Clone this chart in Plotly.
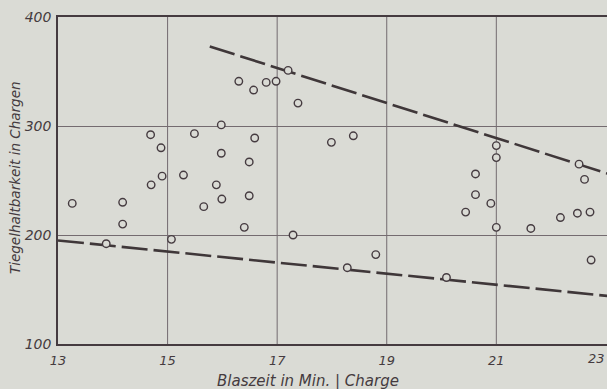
import plotly.graph_objects as go

# Blowing time per heat (min) and ladle/crucible life (heats)
blaszeit = [13.26, 13.88, 14.18, 14.18, 14.69, 14.88, 14.70, 14.90, 15.07, 15.29,
            15.49, 15.66, 15.89, 15.98, 15.98, 15.99, 16.30, 16.40, 16.49, 16.49,
            16.57, 16.59, 16.80, 16.98, 17.20, 17.29, 17.38, 17.99, 18.28, 18.39,
            18.80, 20.09, 20.44, 20.62, 20.62, 20.90, 21.00, 21.00, 21.00, 21.63,
            22.17, 22.48, 22.51, 22.61, 22.71, 22.73]
haltbarkeit = [229, 192, 230, 210, 292, 280, 246, 254, 196, 255,
               293, 226, 246, 301, 275, 233, 341, 207, 267, 236,
               333, 289, 340, 341, 351, 200, 321, 285, 170, 291,
               182, 161, 221, 256, 237, 229, 282, 271, 207, 206,
               216, 220, 265, 251, 221, 177]

# Upper and lower boundary lines (endpoints)
obere_x = [15.77, 23.05]
obere_y = [373, 256]
untere_x = [13.0, 23.05]
untere_y = [195, 144]

x_ticks = [13, 15, 17, 19, 21]
x_last_tick = "23"
x_grid = [15, 17, 19, 21]
y_ticks = [100, 200, 300, 400]

bg = "#dadbd5"
ink = "#453b40"
grid = "#746b70"
font_family = "DejaVu Sans"

fig = go.Figure()

for lx, ly in ((obere_x, obere_y), (untere_x, untere_y)):
    fig.add_trace(go.Scatter(
        x=lx, y=ly, mode="lines",
        line=dict(color="#3f3739", width=2.6, dash="26px,6px"),
        hoverinfo="skip", showlegend=False,
    ))

fig.add_trace(go.Scatter(
    x=blaszeit, y=haltbarkeit, mode="markers",
    marker=dict(symbol="circle", size=7.5, color=bg,
                line=dict(color=ink, width=1.4)),
    showlegend=False,
))

# vertical grid lines (the one at 23 lies on the page edge and is not drawn)
for gx in x_grid:
    fig.add_shape(type="line", xref="x", yref="paper", x0=gx, x1=gx, y0=0, y1=1,
                  line=dict(color=grid, width=1), layer="below")

fig.update_layout(
    width=607, height=389,
    margin=dict(l=58, r=0, t=17, b=45, autoexpand=False),
    paper_bgcolor=bg, plot_bgcolor=bg,
    font=dict(family=font_family, color=ink, size=13, style="italic"),
    xaxis=dict(
        range=[13, 23.02], tickvals=x_ticks, ticktext=[str(v) for v in x_ticks],
        showgrid=False, automargin=False,
        showline=True, linecolor=ink, linewidth=1.6, mirror=True,
        ticks="", zeroline=False, ticklabelstandoff=4,
        tickfont=dict(family=font_family, size=13, color=ink, style="italic"),
    ),
    yaxis=dict(
        range=[100, 400], tickvals=y_ticks, ticktext=[str(v) for v in y_ticks],
        showgrid=True, gridcolor=grid, gridwidth=1, automargin=False,
        showline=True, linecolor=ink, linewidth=1.6, mirror=False,
        ticks="", zeroline=False, ticklabelstandoff=2,
        tickfont=dict(family=font_family, size=14, color=ink, style="italic"),
    ),
    annotations=[
        # last x tick label, kept inside the page at the right edge
        dict(text=x_last_tick, xref="paper", yref="paper",
             x=1, y=-(358 - 344) / 327, xanchor="right", yanchor="middle",
             showarrow=False,
             font=dict(family=font_family, size=13, color=ink, style="italic")),
        dict(text="Blaszeit in Min. | Charge", xref="paper", yref="paper",
             x=(308 - 58) / 549, y=-(381 - 344) / 327,
             xanchor="center", yanchor="middle", showarrow=False,
             font=dict(family=font_family, size=15, color=ink, style="italic")),
        dict(text="Tiegelhaltbarkeit in Chargen", xref="paper", yref="paper",
             x=-(58 - 15) / 549, y=1 - (178 - 17) / 327, textangle=-90,
             xanchor="center", yanchor="middle", showarrow=False,
             font=dict(family=font_family, size=13.5, color=ink, style="italic")),
    ],
)

fig.write_html("out.html")
